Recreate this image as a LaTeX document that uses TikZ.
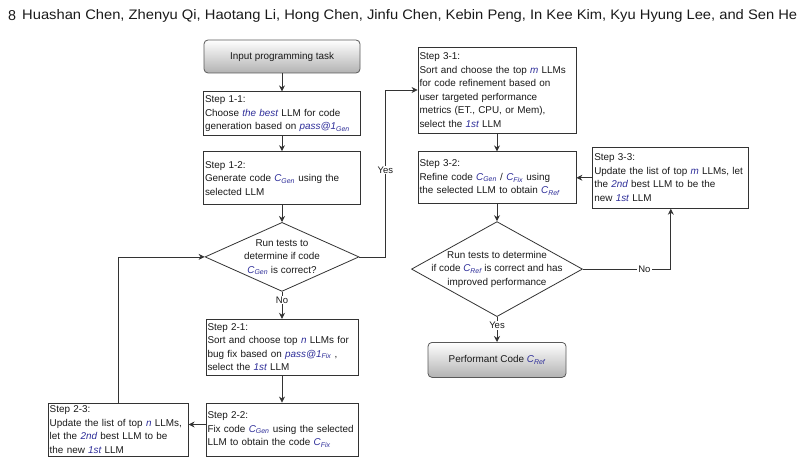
\documentclass[tikz,border=0pt]{standalone}
\usepackage{fontspec}
\setmainfont{Liberation Sans}
\usepackage{xcolor}
\usepackage{graphicx}
\usepackage{tikz}
\usetikzlibrary{arrows.meta,positioning,shapes.geometric}
\definecolor{FBlue}{HTML}{2E2E99}
\definecolor{FInk}{HTML}{1A1A1A}
\definecolor{FLine}{HTML}{333333}
\hyphenpenalty=10000
\exhyphenpenalty=10000
\newcommand{\hi}[1]{\textcolor{FBlue}{\itshape #1}}
\newcommand{\cGen}{\hi{C\textsubscript{Gen}}}
\newcommand{\cFix}{\hi{C\textsubscript{Fix}}}
\newcommand{\cRef}{\hi{C\textsubscript{Ref}}}

\begin{document}
\begin{tikzpicture}[
  x=1pt,y=-1pt,
  every node/.style={font=\fontsize{9.9}{13.5}\selectfont,text=FInk},
  stepbox/.style={draw=FLine,fill=white,line width=0.8pt,align=left,
    inner xsep=1.5pt,inner ysep=0pt},
  term/.style={draw=black!65,rounded corners=4pt,top color=white,
    bottom color=black!30,line width=0.8pt,align=center},
  decision/.style={diamond,draw=FLine,fill=white,line width=0.8pt,inner sep=0pt},
  dtext/.style={align=center,inner sep=0pt},
  lbl/.style={fill=white,inner sep=1pt,font=\fontsize{9.5}{11}\selectfont},
  arr/.style={-{Stealth[length=6pt,width=6pt]},line width=0.8pt,draw=FLine}
]
  \useasboundingbox (0,0) rectangle (801,460);

  % running head
  \node[anchor=base west,inner sep=0pt] (pg) at (8,20) {\resizebox{!}{10pt}{8}};
  \node[anchor=base west,inner sep=0pt] (auth) at (22,20)
    {\resizebox{775pt}{10pt}{Huashan Chen, Zhenyu Qi, Haotang Li, Hong Chen, Jinfu Chen, Kebin Peng, In Kee Kim, Kyu Hyung Lee, and Sen He}};

  % left column
  \node[term,minimum width=156pt,minimum height=33pt] (task) at (282,56.5) {Input programming task};
  \node[stepbox,text width=154pt,minimum height=44pt,below=18pt of task] (s11)
    {Step 1-1:\\Choose \hi{the best} LLM for code\\generation based on \hi{pass@1\textsubscript{Gen}}};
  \node[stepbox,text width=154pt,minimum height=53pt,below=15pt of s11] (s12)
    {Step 1-2:\\Generate code \cGen{} using the\\selected LLM};
  \node[decision,minimum width=154pt,minimum height=69pt,below=17pt of s12,
    label={[dtext]center:{Run tests to\\determine if code\\\cGen{} is correct?}}] (d1) {};
  \node[stepbox,text width=149pt,minimum height=56pt,below=27pt of d1] (s21)
    {Step 2-1:\\Sort and choose top \hi{n} LLMs for\\bug fix based on \hi{pass@1\textsubscript{Fix}} ,\\select the \hi{1st} LLM};
  \node[stepbox,text width=149pt,minimum height=53pt,below=27pt of s21] (s22)
    {Step 2-2:\\Fix code \cGen{} using the selected\\LLM to obtain the code \cFix};
  \node[stepbox,text width=137pt,minimum height=53pt,left=17pt of s22] (s23)
    {Step 2-3:\\Update the list of top \hi{n} LLMs,\\let the \hi{2nd} best LLM to be\\the new \hi{1st} LLM};

  % right column
  \node[stepbox,text width=155pt,minimum height=86pt] (s31) at (497,90)
    {Step 3-1:\\Sort and choose the top \hi{m} LLMs\\for code refinement based on\\user targeted performance\\metrics (ET., CPU, or Mem),\\select the \hi{1st} LLM};
  \node[stepbox,text width=155pt,minimum height=52pt,below=18pt of s31] (s32)
    {Step 3-2:\\Refine code \cGen{} / \cFix{} using\\the selected LLM to obtain \cRef};
  \node[stepbox,text width=153pt,minimum height=61pt,right=16pt of s32] (s33)
    {Step 3-3:\\Update the list of top \hi{m} LLMs, let\\the \hi{2nd} best LLM to be the\\new \hi{1st} LLM};
  \node[decision,minimum width=171pt,minimum height=95pt,below=17pt of s32,
    label={[dtext]center:{Run tests to determine\\if code \cRef{} is correct and has\\improved performance}}] (d2) {};
  \node[term,minimum width=138pt,minimum height=35pt,below=25pt of d2] (done) {Performant Code \cRef};

  \draw[arr] (task) -- (s11);
  \draw[arr] (s11) -- (s12);
  \draw[arr] (s12) -- (d1);
  \draw[arr] (d1) -- node[lbl,pos=0.3] {No} (s21);
  \draw[arr] (s21) -- (s22);
  \draw[arr] ([yshift=5pt]s22.west) -- ([yshift=5pt]s23.east);
  \draw[arr] (s23.north) |- (d1.west);
  \draw[arr] (d1.east) -- ++(26,0) |- node[lbl,pos=0.26] {Yes} (s31.west);
  \draw[arr] (s31) -- (s32);
  \draw[arr] (s33) -- (s32);
  \draw[arr] (s32) -- (d2);
  \draw[arr] (d2.east) -| node[lbl,pos=0.35] {No} (s33.south);
  \draw[arr] (d2) -- node[lbl,pos=0.35] {Yes} (done);
\end{tikzpicture}
\end{document}
